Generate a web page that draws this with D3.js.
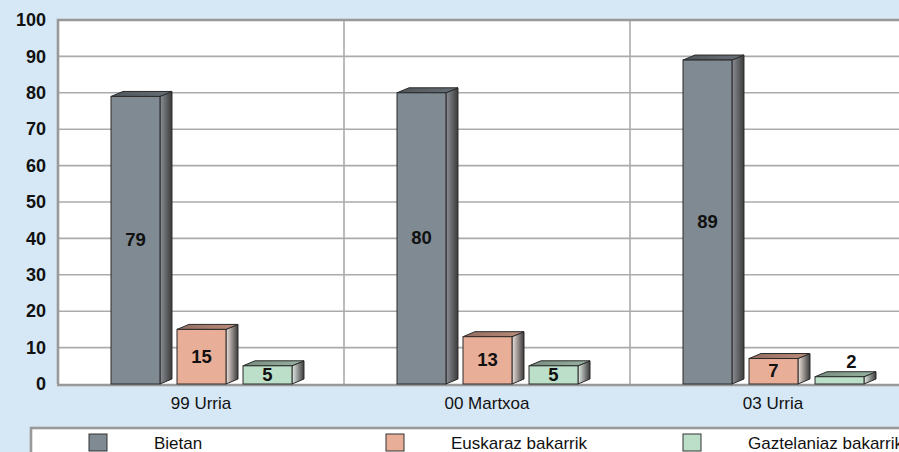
<!DOCTYPE html>
<html>
<head>
<meta charset="utf-8">
<script src="https://cdn.jsdelivr.net/npm/d3@7"></script>
<style>
  html, body { margin: 0; padding: 0; background: #d6e7f5; overflow: hidden; }
  text { font-family: "Liberation Sans", Arial, sans-serif; }
</style>
</head>
<body>
<div id="wrapper"></div>
<script>
// chart values
const categories = ["99 Urria", "00 Martxoa", "03 Urria"]
const seriesNames = ["Bietan", "Euskaraz bakarrik", "Gaztelaniaz bakarrik"]
const bietan = [79, 80, 89]
const euskaraz = [15, 13, 7]
const gaztelaniaz = [5, 5, 2]
const yTicks = [0, 10, 20, 30, 40, 50, 60, 70, 80, 90, 100]

const seriesValues = [bietan, euskaraz, gaztelaniaz]
const seriesColors = ["#7f8a93", "#e8ae98", "#bcdfc9"]
const sideLight = ["#8c9196", "#f0e4de", "#e6efe9"]

function drawBarChart() {
    const dims = {
        width: 899,
        height: 452,
        plotLeft: 58,
        plotTop: 20,
        plotBottom: 384,
        categoryWidth: 286,
        depthX: 12,
        depthY: 5,
    }

    const svg = d3.select("#wrapper")
        .append("svg")
            .attr("width", dims.width)
            .attr("height", dims.height)

    // gradients for the side faces of the 3d bars
    const defs = svg.append("defs")
    seriesColors.forEach((c, i) => {
        const g = defs.append("linearGradient").attr("id", "side" + i)
            .attr("x1", "0").attr("x2", "1").attr("y1", "0").attr("y2", "0")
        g.append("stop").attr("offset", "0%").attr("stop-color", sideLight[i])
        g.append("stop").attr("offset", "100%").attr("stop-color", "#3a3a3a")
        const t = defs.append("linearGradient").attr("id", "top" + i)
            .attr("x1", "0").attr("x2", "1").attr("y1", "0").attr("y2", "0")
        t.append("stop").attr("offset", "0%").attr("stop-color", d3.color(c).darker(1.3))
        t.append("stop").attr("offset", "100%").attr("stop-color", d3.color(c).darker(0.6))
    })

    // scales
    const xScale = d3.scaleBand()
        .domain(categories)
        .range([dims.plotLeft, dims.plotLeft + dims.categoryWidth * categories.length])

    const seriesScale = d3.scaleBand() // bars inside one category
        .domain(seriesNames)
        .range([53, 234])
        .paddingInner(0.258)
        .paddingOuter(0)

    const yScale = d3.scaleLinear()
        .domain([0, 100])
        .range([dims.plotBottom, dims.plotTop])

    // plot area
    const plotRight = xScale.range()[1]
    svg.append("rect")
        .attr("x", dims.plotLeft)
        .attr("y", dims.plotTop)
        .attr("width", plotRight - dims.plotLeft)
        .attr("height", dims.plotBottom - dims.plotTop)
        .attr("fill", "#ffffff")

    // horizontal gridlines
    svg.append("g").selectAll("line")
        .data(yTicks.filter(d => d > 0 && d < 100))
        .join("line")
            .attr("x1", dims.plotLeft)
            .attr("x2", plotRight)
            .attr("y1", d => yScale(d))
            .attr("y2", d => yScale(d))
            .attr("stroke", "#ababab")
            .attr("stroke-width", 1.6)

    // vertical category separators
    svg.append("g").selectAll("line")
        .data(categories.slice(1))
        .join("line")
            .attr("x1", d => xScale(d))
            .attr("x2", d => xScale(d))
            .attr("y1", dims.plotTop)
            .attr("y2", dims.plotBottom)
            .attr("stroke", "#ababab")
            .attr("stroke-width", 1.6)

    // plot borders
    svg.append("path")
        .attr("d", `M${dims.plotLeft},${dims.plotBottom} V${dims.plotTop} H${plotRight}`)
        .attr("fill", "none")
        .attr("stroke", "#999999")
        .attr("stroke-width", 2.6)
    svg.append("line")
        .attr("x1", dims.plotLeft - 1).attr("x2", plotRight)
        .attr("y1", dims.plotBottom + 1).attr("y2", dims.plotBottom + 1)
        .attr("stroke", "#999999")
        .attr("stroke-width", 2.6)

    // y axis labels
    const yAxis = d3.axisLeft(yScale).tickValues(yTicks).tickSize(0).tickPadding(0)
    svg.append("g")
        .attr("transform", `translate(46,0)`)
        .call(yAxis)
        .call(g => g.select(".domain").remove())
        .selectAll("text")
            .attr("font-family", "'Liberation Sans', Arial, sans-serif")
            .attr("font-size", 18)
            .attr("font-weight", "bold")
            .attr("fill", "#111")

    // x axis labels
    const xAxis = d3.axisBottom(xScale).tickSize(0).tickPadding(0)
    svg.append("g")
        .attr("transform", `translate(0,${dims.plotBottom + 13})`)
        .call(xAxis)
        .call(g => g.select(".domain").remove())
        .selectAll("text")
            .attr("font-family", "'Liberation Sans', Arial, sans-serif")
            .attr("font-size", 17)
            .attr("fill", "#111")

    // 3d bars
    const dx = dims.depthX, dy = dims.depthY
    const bw = seriesScale.bandwidth()
    const bars = []
    categories.forEach((cat, ci) => {
        seriesNames.forEach((s, si) => {
            bars.push({ cat, si, s, value: seriesValues[si][ci] })
        })
    })

    const barG = svg.append("g").selectAll("g")
        .data(bars)
        .join("g")
            .attr("transform", d => `translate(${xScale(d.cat) + seriesScale(d.s)},0)`)

    // side face
    barG.append("path")
        .attr("d", d => {
            const yt = yScale(d.value), yb = yScale(0)
            return `M${bw},${yt} L${bw + dx},${yt - dy} L${bw + dx},${yb - dy} L${bw},${yb} Z`
        })
        .attr("fill", d => `url(#side${d.si})`)
        .attr("stroke", "#2a2a2a")
        .attr("stroke-width", 1)
        .attr("stroke-linejoin", "round")

    // top face
    barG.append("path")
        .attr("d", d => {
            const yt = yScale(d.value)
            return `M0,${yt} L${dx},${yt - dy} L${bw + dx},${yt - dy} L${bw},${yt} Z`
        })
        .attr("fill", d => `url(#top${d.si})`)
        .attr("stroke", "#2a2a2a")
        .attr("stroke-width", 1)
        .attr("stroke-linejoin", "round")

    // front face
    barG.append("rect")
        .attr("x", 0)
        .attr("y", d => yScale(d.value))
        .attr("width", bw)
        .attr("height", d => yScale(0) - yScale(d.value))
        .attr("fill", d => seriesColors[d.si])
        .attr("stroke", "#2a2a2a")
        .attr("stroke-width", 1)

    // value labels
    barG.append("text")
        .attr("x", d => d.value < 4 ? bw / 2 + dx : bw / 2)
        .attr("y", d => d.value < 4
            ? yScale(d.value) - dy - 4
            : (yScale(d.value) + yScale(0)) / 2 + 6)
        .attr("text-anchor", "middle")
        .attr("font-size", 18.5)
        .attr("font-weight", "bold")
        .attr("fill", "#111")
        .text(d => d.value)

    // legend
    const legendTop = 428
    svg.append("rect")
        .attr("x", 31)
        .attr("y", legendTop)
        .attr("width", dims.width)
        .attr("height", 60)
        .attr("fill", "#ffffff")
        .attr("stroke", "#999999")
        .attr("stroke-width", 2.6)

    const legendX = d3.scalePoint()
        .domain(seriesNames)
        .range([89, 89 + 297 * 2])

    const legendItems = svg.append("g").selectAll("g")
        .data(seriesNames)
        .join("g")
            .attr("transform", d => `translate(${legendX(d)},${legendTop + 6})`)

    legendItems.append("rect")
        .attr("width", 18)
        .attr("height", 17)
        .attr("fill", (d, i) => seriesColors[i])
        .attr("stroke", "#333")
        .attr("stroke-width", 1)

    legendItems.append("text")
        .attr("x", 65)
        .attr("y", 15)
        .attr("font-size", 17)
        .attr("fill", "#111")
        .text(d => d)
}

drawBarChart()
</script>
</body>
</html>
